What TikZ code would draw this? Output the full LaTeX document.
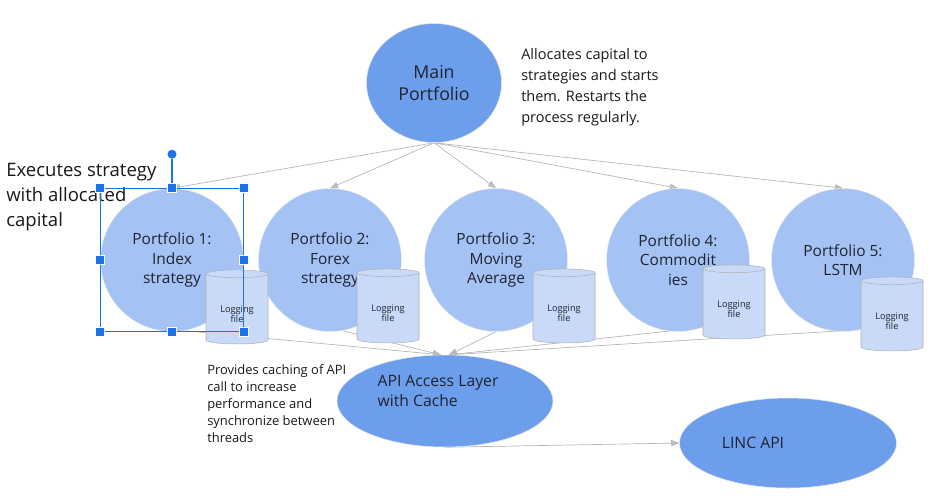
\documentclass[tikz,border=0pt]{standalone}
\usepackage{fontspec}
\setmainfont{Open Sans}
\usetikzlibrary{shapes.geometric,arrows.meta,backgrounds}

\definecolor{mainblue}{HTML}{6D9EEB}
\definecolor{portblue}{HTML}{A4C2F4}
\definecolor{logblue}{HTML}{C9DAF8}
\definecolor{selblue}{HTML}{1A73E8}
\definecolor{linkgrey}{HTML}{B4B4B4}
\definecolor{textdark}{HTML}{1F2430}

\newcommand*{\px}{0.75pt}
\newcommand*{\fs}[2]{\fontsize{#1}{#2}\selectfont}
% text of a logging file, drawn a little below the middle of the cylinder
\newcommand*{\logtext}{\raisebox{-3.75pt}[\height][\depth]{Logging}\\\raisebox{-3.75pt}[\height][\depth]{file}}

\begin{document}
\begin{tikzpicture}
[
	x=\px,
	y=-\px,
	mainnode/.style={ellipse,fill=mainblue,draw=black!10,inner sep=0pt,align=center,text=textdark},
	portnode/.style={circle,fill=portblue,draw=black!8,inner sep=0pt,minimum size=143*\px,align=center,text=textdark,font=\fs{11.6}{14.6}},
	lognode/.style={cylinder,shape border rotate=90,aspect=0.23,fill=logblue,draw=black!30,inner sep=0pt,minimum width=62*\px,minimum height=74*\px,align=center,text=textdark,font=\fs{6.9}{8}},
	apitext/.style={align=left,inner sep=0pt,text=textdark,font=\fs{11.8}{15}},
	note/.style={anchor=base west,align=left,inner sep=0pt,text=black!90},
	link/.style={draw=linkgrey,line width=0.5pt,-{Triangle[length=6pt,width=4.5pt,fill=linkgrey!85]}},
	handle/.style={rectangle,fill=selblue,draw=white,line width=0.5pt,minimum size=9*\px,inner sep=0pt}
]
	\useasboundingbox (0,0) rectangle (934,501);

	% main portfolio (notes are placed by the baseline of their last line)
	\node[mainnode,minimum width=135*\px,minimum height=119*\px,font=\fs{13.3}{17}] (main) at (434,83) {Main\\Portfolio};
	\node[note,font=\fs{10.9}{15.75}] (allocnote) at (521,122) {Allocates capital to\\strategies and starts\\them. Restarts the\\process regularly.};

	% strategy portfolios
	\node[portnode] (p1) at (172,260) {Portfolio 1:\\Index\\strategy};
	\node[portnode] (p2) at (330,260) {Portfolio 2:\\Forex\\strategy};
	\node[portnode] (p3) at (496,260) {Portfolio 3:\\Moving\\Average};
	\node[portnode] (p4) at (678,260) {Portfolio 4:\\Commodit\\ies};
	\node[portnode] (p5) at (843,260) {Portfolio 5:\\LSTM};

	% logging files
	\node[lognode] (log1) at (237,309) {\logtext};
	\node[lognode] (log2) at (388,308) {\logtext};
	\node[lognode] (log3) at (564,308) {\logtext};
	\node[lognode] (log4) at (734,304) {\logtext};
	\node[lognode] (log5) at (892,316) {\logtext};

	\node[note,font=\fs{13.9}{18.75}] (execnote) at (6,226) {Executes strategy\\with allocated\\capital};

	% api layer
	\node[mainnode,minimum width=216*\px,minimum height=92*\px,
		label={[apitext,xshift=-7*\px,yshift=10*\px]center:API Access Layer\\with Cache}] (api) at (445,401) {};
	\node[note,font=\fs{9.7}{12.75}] (cachenote) at (207,442) {Provides caching of API\\call to increase\\performance and\\synchronize between\\threads};
	\node[mainnode,minimum width=217*\px,minimum height=90*\px,
		label={[apitext,xshift=-35*\px]center:LINC API}] (linc) at (788,443) {};

	% connectors
	\begin{pgfonlayer}{background}
		\foreach \p in {p1,p2,p3,p4,p5}
			\draw[link] (main.south) -- (\p.north);
		\draw[link] (p1.-80) -- (api.95);
		\draw[link] (p2.-80) -- (api.95);
		\draw[link] (p3.south) -- (api.85);
		\draw[link] (p4.-70) -- (api.85);
		\draw[link] (p5.-76) -- (api.85);
		\draw[link] (api.south) -- (linc.west);
	\end{pgfonlayer}

	% selection on portfolio 1
	\coordinate (selnw) at (p1.west |- p1.north);
	\coordinate (selse) at (p1.east |- p1.south);
	\draw[selblue,line width=0.9pt] (selnw) rectangle (selse);
	\node[circle,fill=selblue,inner sep=0pt,minimum size=9*\px] (rotdot) at ([yshift=34*\px]p1.north) {};
	\draw[selblue,line width=0.9pt] (rotdot) -- (p1.north);
	\foreach \a [count=\i] in {p1.north,p1.south,p1.east,p1.west,selnw,selse,{selnw -| selse},{selse -| selnw}}
		\node[handle] (h\i) at (\a) {};

\end{tikzpicture}
\end{document}
